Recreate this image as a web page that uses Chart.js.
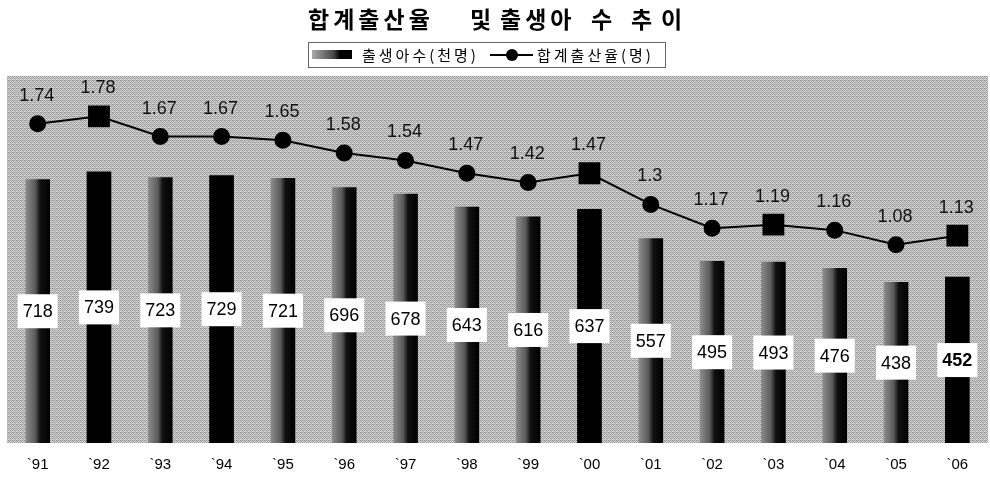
<!DOCTYPE html>
<html>
<head>
<meta charset="utf-8">
<script src="https://cdn.jsdelivr.net/npm/chart.js@4"></script>
<style>
  html, body { margin: 0; padding: 0; background: #fff; }
  #wrap { width: 990px; height: 477px; }
</style>
</head>
<body>
<div id="wrap"><canvas id="birthChart" width="990" height="477"></canvas></div>
<script>
const years = ['`91', '`92', '`93', '`94', '`95', '`96', '`97', '`98', '`99', '`00', '`01', '`02', '`03', '`04', '`05', '`06'];
const births = [718, 739, 723, 729, 721, 696, 678, 643, 616, 637, 557, 495, 493, 476, 438, 452];
const fertility = [1.74, 1.78, 1.67, 1.67, 1.65, 1.58, 1.54, 1.47, 1.42, 1.47, 1.3, 1.17, 1.19, 1.16, 1.08, 1.13];

const titleParts = ['합계출산율', '및', '출생아', '수', '추', '이'];
const seriesNames = ['출생아수(천명)', '합계출산율(명)'];

const squareMarks = [1, 9, 12, 15];
const solidBars = [1, 3, 9, 15];
const NUM_FONT = '"Liberation Sans", Arial, sans-serif';
const KR_FONT = '"Noto Sans CJK KR", "Noto Sans", sans-serif';

/* ===============================
   BACKGROUND TEXTURE
================================ */
function makeTexture() {
    const bayer = [[0, 8, 2, 10], [12, 4, 14, 6], [3, 11, 1, 9], [15, 7, 13, 5]];
    const c = document.createElement('canvas');
    c.width = 4; c.height = 4;
    const g = c.getContext('2d');
    for (let y = 0; y < 4; y++) {
        for (let x = 0; x < 4; x++) {
            const v = 140 + bayer[y][x] * 6;
            g.fillStyle = `rgb(${v},${v},${v})`;
            g.fillRect(x, y, 1, 1);
        }
    }
    return c;
}

function barFill(c) {
    if (solidBars.includes(c.dataIndex)) return '#000';
    const x = c.chart.scales.x ? c.chart.scales.x.getPixelForValue(c.dataIndex) : NaN;
    if (!Number.isFinite(x)) return '#333';
    const grad = c.chart.ctx.createLinearGradient(x - 12, 0, x + 12, 0);
    grad.addColorStop(0, '#8c8c8c');
    grad.addColorStop(0.4, '#5a5a5a');
    grad.addColorStop(0.6, '#111');
    grad.addColorStop(1, '#000');
    return grad;
}

/* ===============================
   PLUGINS
================================ */
const plotBackground = {
    id: 'plotBackground',
    beforeDraw(chart) {
        const { ctx, chartArea: a } = chart;
        ctx.save();
        ctx.fillStyle = ctx.createPattern(makeTexture(), 'repeat');
        ctx.fillRect(a.left, a.top, a.right - a.left, a.bottom - a.top);
        ctx.restore();
    }
};

// title and boxed legend, drawn in the space kept free above the plot
const header = {
    id: 'header',
    afterDraw(chart) {
        const ctx = chart.ctx;
        ctx.save();
        ctx.fillStyle = '#000';
        ctx.textBaseline = 'middle';
        ctx.textAlign = 'left';

        ctx.font = 'bold 23px ' + KR_FONT;
        ctx.letterSpacing = '4px';
        const titleX = [308, 470, 500, 591, 631, 661];
        titleParts.forEach((t, i) => ctx.fillText(t, titleX[i], 19));

        // legend frame
        ctx.strokeStyle = '#666';
        ctx.lineWidth = 1;
        ctx.strokeRect(308.5, 42.5, 357, 25);

        // bar swatch
        const grad = ctx.createLinearGradient(312, 0, 352, 0);
        grad.addColorStop(0, '#aaa');
        grad.addColorStop(0.55, '#444');
        grad.addColorStop(0.7, '#000');
        grad.addColorStop(1, '#000');
        ctx.fillStyle = grad;
        ctx.fillRect(312, 50, 40, 9);

        // line swatch
        ctx.strokeStyle = '#000';
        ctx.lineWidth = 2;
        ctx.beginPath();
        ctx.moveTo(490, 55); ctx.lineTo(533, 55);
        ctx.stroke();
        ctx.fillStyle = '#000';
        ctx.beginPath();
        ctx.arc(512, 55, 6, 0, Math.PI * 2);
        ctx.fill();

        ctx.font = '15px ' + KR_FONT;
        ctx.letterSpacing = '3px';
        ctx.fillText(seriesNames[0], 362, 55);
        ctx.fillText(seriesNames[1], 537, 55);
        ctx.restore();
    }
};

const valueLabels = {
    id: 'valueLabels',
    afterDatasetsDraw(chart) {
        const ctx = chart.ctx;
        ctx.save();
        ctx.textAlign = 'center';
        ctx.textBaseline = 'middle';

        // bar values in white boxes, centred on the bar
        chart.getDatasetMeta(0).data.forEach((bar, i) => {
            const cy = (bar.y + bar.base) / 2;
            const bold = i === births.length - 1;
            ctx.font = (bold ? 'bold ' : '') + '18px ' + NUM_FONT;
            const txt = String(births[i]);
            const w = ctx.measureText(txt).width + 10;
            ctx.fillStyle = '#fff';
            ctx.fillRect(bar.x - w / 2, cy - 17, w, 34);
            ctx.fillStyle = '#000';
            ctx.fillText(txt, bar.x, cy + 1);
        });

        // rate values above the line points
        ctx.font = '18px ' + NUM_FONT;
        ctx.fillStyle = '#111';
        chart.getDatasetMeta(1).data.forEach((pt, i) => {
            ctx.fillText(String(fertility[i]), pt.x - 1, pt.y - 28);
        });
        ctx.restore();
    }
};

/* ===============================
   CHART
================================ */
const el = document.getElementById('birthChart');

new Chart(el, {
    data: {
        labels: years,
        datasets: [{
            type: 'bar',
            label: seriesNames[0],
            data: births,
            yAxisID: 'y',
            order: 2,
            barThickness: 24,
            backgroundColor: barFill
        }, {
            type: 'line',
            label: seriesNames[1],
            data: fertility,
            yAxisID: 'y1',
            order: 1,
            borderColor: '#000',
            borderWidth: 2,
            backgroundColor: '#000',
            pointStyle: fertility.map((v, i) => squareMarks.includes(i) ? 'rect' : 'circle'),
            pointRadius: fertility.map((v, i) => squareMarks.includes(i) ? 14 : 7.5),
            tension: 0
        }]
    },
    options: {
        responsive: false,
        animation: false,
        layout: { autoPadding: false, padding: { top: 76, left: 7, right: 2, bottom: 3 } },
        plugins: {
            title: { display: false },
            legend: { display: false },
            tooltip: { enabled: false }
        },
        scales: {
            x: {
                grid: { display: false, drawTicks: false },
                border: { display: false },
                ticks: { color: '#000', font: { family: NUM_FONT, size: 15 }, padding: 13 },
                afterFit: (scale) => {
                    scale.paddingLeft = 0;
                    scale.paddingRight = 0;
                    scale.height = 31;
                }
            },
            y: { display: false, min: 0, max: 1000 },
            y1: { display: false, min: 0, max: 2 }
        }
    },
    plugins: [plotBackground, valueLabels, header]
});
</script>
</body>
</html>
